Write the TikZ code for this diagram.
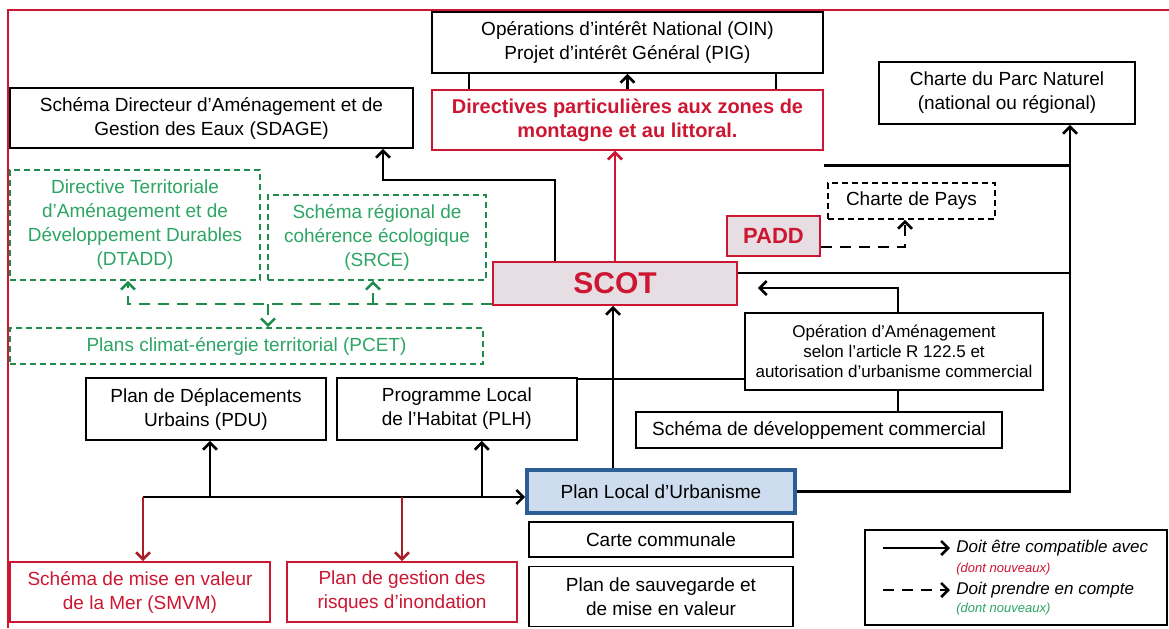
\documentclass[tikz,border=0pt]{standalone}
\usepackage{fontspec}
\setmainfont{Liberation Sans}
\usetikzlibrary{arrows.meta,calc,positioning}

\definecolor{scotred}{RGB}{205,22,50}
\definecolor{darkred}{RGB}{170,30,40}
\definecolor{txtgreen}{RGB}{45,165,100}
\definecolor{dashgreen}{RGB}{30,140,75}
\definecolor{plublue}{RGB}{45,95,150}
\definecolor{plufill}{RGB}{205,220,238}
\definecolor{scotfill}{RGB}{230,222,226}

\begin{document}
\begin{tikzpicture}[x=0.5pt,y=-0.5pt,align=center,inner sep=0pt,font=\fontsize{9.5}{12}\selectfont]
\tikzstyle{doc}=[draw=black,line width=0.9pt,fill=white]
\tikzstyle{rdoc}=[draw=scotred,line width=0.9pt,fill=white,text=scotred]
\tikzstyle{gdoc}=[draw=dashgreen,dash pattern=on 3pt off 2pt,line width=0.8pt,fill=white,text=txtgreen]
\tikzstyle{link}=[line width=1.3pt]
\tikzstyle{compat}=[-{Straight Barb[length=3.5pt,width=7pt]},line width=1.3pt]
\tikzstyle{compte}=[-{Straight Barb[length=3.5pt,width=7pt]},line width=1.3pt,dash pattern=on 5.5pt off 4pt]

\useasboundingbox (0,0) rectangle (1169,628);
\draw[scotred,line width=1pt] (8,628) -- (8,10) -- (1169,10);

% haut
\node[doc,minimum width=195.5pt,minimum height=30.5pt] (oin) at (627.5,42.5) {Opérations d'intérêt National (OIN)\\Projet d'intérêt Général (PIG)};
\node[rdoc,font=\bfseries,minimum width=195.5pt,minimum height=30pt] (dir) [below=7.5pt of oin] {Directives particulières aux zones de\\montagne et au littoral.};
\node[doc,minimum width=201.5pt,minimum height=30pt] (sdage) at (211.5,118) {Schéma Directeur d'Aménagement et de\\Gestion des Eaux (SDAGE)};
\node[doc,minimum width=128pt,minimum height=31pt] (parc) at (1007,93) {Charte du Parc Naturel\\(national ou régional)};
\node[doc,dash pattern=on 3pt off 2pt,minimum width=83.5pt,minimum height=18pt] (pays) at (911.5,201) {Charte de Pays};
\node[rdoc,fill=scotfill,font=\bfseries\fontsize{11}{13}\selectfont,minimum width=46.5pt,minimum height=20pt] (padd) at (773.5,236) {PADD};

% milieu
\node[gdoc,minimum width=125pt,minimum height=55pt] (dtadd) at (135,225) {Directive Territoriale\\d'Aménagement et de\\Développement Durables\\(DTADD)};
\node[gdoc,minimum width=109pt,minimum height=42.5pt] (srce) at (377,237.5) {Schéma régional de\\cohérence écologique\\(SRCE)};
\node[rdoc,fill=scotfill,font=\bfseries\fontsize{15}{18}\selectfont,minimum width=122pt,minimum height=21.5pt] (scot) at (615,283.5) {SCOT};
\node[gdoc,minimum width=236.5pt,minimum height=18pt] (pcet) at (246.5,346) {Plans climat-énergie territorial (PCET)};
\node[doc,font=\fontsize{8.5}{10}\selectfont,minimum width=149pt,minimum height=38.5pt] (oa) at (894,351.5) {Opération d'Aménagement\\selon l'article R 122.5 et\\autorisation d'urbanisme commercial};
\node[doc,minimum width=120pt,minimum height=31pt] (pdu) at (206,409) {Plan de Déplacements\\Urbains (PDU)};
\node[doc,minimum width=120pt,minimum height=31pt] (plh) [right=4.5pt of pdu] {Programme Local\\de l'Habitat (PLH)};
\node[doc,minimum width=183pt,minimum height=18pt] (sdc) at (819,430) {Schéma de développement commercial};

% bas
\node[draw=plublue,line width=1.8pt,fill=plufill,minimum width=134pt,minimum height=21.5pt] (plu) at (661,491.5) {Plan Local d'Urbanisme};
\node[doc,minimum width=132pt,minimum height=17.5pt] (cc) [below=3pt of plu] {Carte communale};
\node[doc,minimum width=132pt,minimum height=30pt] (psmv) [below=4pt of cc] {Plan de sauvegarde et\\de mise en valeur};
\node[rdoc,minimum width=130pt,minimum height=30pt] (smvm) at (140,592) {Schéma de mise en valeur\\de la Mer (SMVM)};
\node[rdoc,minimum width=115pt,minimum height=30pt] (pgri) at (402,592) {Plan de gestion des\\risques d'inondation};

% legende
\node[doc,line width=0.8pt,minimum width=151pt,minimum height=47.5pt] (legend) at (1016,577.5) {};
\node[anchor=west,font=\itshape\fontsize{8.5}{10}\selectfont] (lg1) at (956,548) {Doit être compatible avec};
\node[anchor=west,font=\itshape\fontsize{6.5}{8}\selectfont,text=scotred] (lg2) at (956,569) {(dont nouveaux)};
\node[anchor=west,font=\itshape\fontsize{8.5}{10}\selectfont] (lg3) at (956,590) {Doit prendre en compte};
\node[anchor=west,font=\itshape\fontsize{6.5}{8}\selectfont,text=txtgreen] (lg4) at (956,609) {(dont nouveaux)};
\draw[compat] ($(lg1.west)+(-73,0)$) -- ($(lg1.west)+(-6,0)$);
\draw[compte] ($(lg3.west)+(-73,0)$) -- ($(lg3.west)+(-6,0)$);

% liaisons du haut
\draw[compat] (dir.north) -- (oin.south);
\draw[link] ($(dir.north west)+(38,0)$) -- ($(oin.south west)+(38,0)$);
\draw[link] ($(dir.north east)+(-48,0)$) -- ($(oin.south east)+(-48,0)$);
\draw[compat,scotred] (scot.north) -- (scot.north |- dir.south);
\coordinate (k1) at (555,180);
\coordinate (k2) at (383,180);
\draw[compat] (k1 |- scot.north) -- (k1) -- (k2) -- (k2 |- sdage.south);

% prise en compte (vert)
\coordinate (g0) at ($(scot.south west)+(0,-2)$);
\draw[compte,dashgreen] (g0) -| ($(dtadd.south)+(-7,0)$);
\draw[compte,dashgreen] ($(srce.south |- g0)+(-4,0)$) -- ($(srce.south)+(-4,0)$);
\draw[compte,dashgreen] ($(pcet.north |- g0)+(21.5,0)$) -- ($(pcet.north)+(21.5,0)$);

% SCOT et droite
\coordinate (up) at ($(plu.north)+(-48,0)$);
\draw[compat] (up) -- (up |- scot.south);
\draw[link] ($(plh.north east)+(0,2)$) -- ($(plh.north east -| oa.west)+(0,2)$);
\coordinate (oa1) at ($(oa.north)+(4,0)$);
\draw[compat] (oa1) |- ($(scot.east)+(20,4.5)$);
\draw[link] ($(oa.south)+(4,0)$) -- ($(oa.south |- sdc.north)+(4,0)$);
\coordinate (rail) at (1070,0);
\draw[compat] (plu.east) -- (plu.east -| rail) -- (rail |- parc.south);
\draw[link] ($(scot.east)+(0,-10.5)$) -- ($(scot.east -| rail)+(0,-10.5)$);
\draw[link] ($(dir.south east)+(0,15)$) -- ($(dir.south east -| rail)+(0,15)$);
\draw[compte] ($(padd.east)+(0,11)$) -| ($(pays.south)+(-6.5,0)$);

% PLU et plans du bas
\coordinate (b0) at (143,497);
\draw[compat] (b0) -- (b0 -| plu.west);
\draw[compat] ($(pdu.south |- b0)+(4,0)$) -- ($(pdu.south)+(4,0)$);
\draw[compat] ($(plh.south |- b0)+(25,0)$) -- ($(plh.south)+(25,0)$);
\draw[compat,darkred] (b0) -- (b0 |- smvm.north);
\draw[compat,darkred] (b0 -| pgri.north) -- (pgri.north);
\end{tikzpicture}
\end{document}
